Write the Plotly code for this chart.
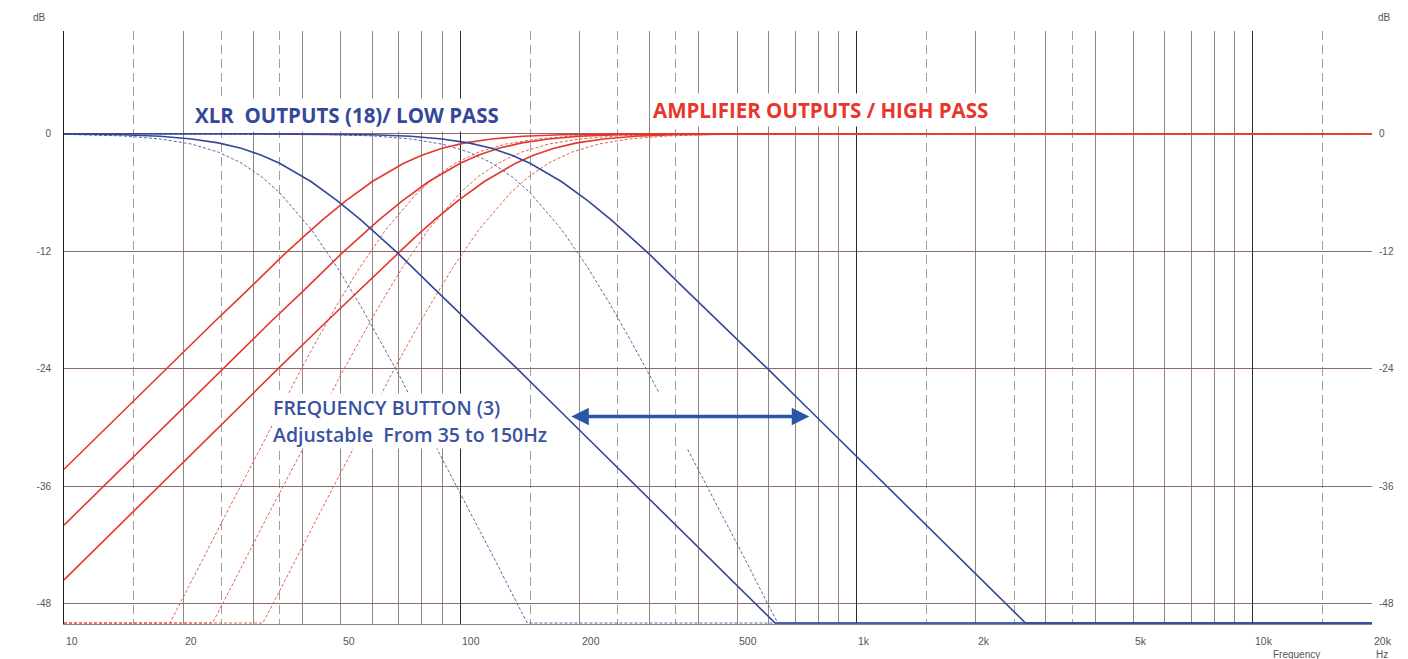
import math
import plotly.graph_objects as go

# ---------------- data ----------------
# Low pass (blue), solid = 12 dB/oct, dashed = 24 dB/oct
lp1_freq = [10, 14, 17.5, 21, 24.5, 28, 31.5, 35, 42, 49, 56, 63, 70, 87.5, 105, 140, 175, 210, 280, 350, 525, 623, 20000]
lp1_db = [-0.03, -0.11, -0.26, -0.53, -0.93, -1.49, -2.19, -3.01, -4.88, -6.85, -8.78, -10.61, -12.3, -16.13, -19.19,
          -24.11, -27.97, -31.13, -36.12, -40.0, -47.04, -50, -50]

lp2_freq = [10, 30, 60, 75, 90, 105, 120, 135, 150, 180, 210, 240, 270, 300, 375, 450, 600, 750, 900, 1200, 1500, 2250, 2670, 20000]
lp2_db = [0, -0.01, -0.11, -0.26, -0.53, -0.93, -1.49, -2.19, -3.01, -4.88, -6.85, -8.78, -10.61, -12.3, -16.13,
          -19.19, -24.11, -27.97, -31.13, -36.12, -40.0, -47.04, -50, -50]

lp1d_freq = [10, 14, 17.5, 21, 24.5, 28, 31.5, 35, 42, 49, 56, 63, 70, 87.5, 105, 122.5, 140, 147.7, 20000]
lp1d_db = [-0.06, -0.22, -0.53, -1.06, -1.87, -2.98, -4.38, -6.02, -9.75, -13.7, -17.56, -21.22, -24.61, -32.26,
           -38.38, -43.58, -48.22, -50, -50]

lp2d_freq = [10, 45, 60, 75, 90, 105, 120, 135, 150, 180, 210, 240, 270, 300, 318, 340, 375, 450, 525, 600, 633, 20000]
lp2d_db = [0, -0.07, -0.22, -0.53, -1.06, -1.87, -2.98, -4.38, -6.02, -9.75, -13.7, -17.56, -21.22, -24.61, -26.5,
           None, -32.26, -38.38, -43.58, -48.22, -50, -50]

# High pass (red), solid = 12 dB/oct, dashed = 24 dB/oct
hp1_freq = [10, 12, 14.4, 18, 24, 28.8, 36, 40, 45, 51.4, 60, 72, 80, 90, 102.9, 120, 144, 180, 240, 360, 20000]
hp1_db = [-34.29, -31.13, -27.97, -24.11, -19.19, -16.13, -12.3, -10.61, -8.78, -6.85, -4.88, -3.01, -2.19, -1.49,
          -0.93, -0.53, -0.26, -0.11, -0.035, -0.007, 0]

hp2_freq = [10, 12.5, 16.7, 20, 25, 33.3, 40, 50, 55.6, 62.5, 71.4, 83.3, 100, 111, 125, 143, 167, 200, 250, 333, 500, 20000]
hp2_db = [-40.0, -36.12, -31.13, -27.97, -24.11, -19.19, -16.13, -12.3, -10.61, -8.78, -6.85, -4.88, -3.01, -2.19,
          -1.49, -0.93, -0.53, -0.26, -0.11, -0.035, -0.007, 0]

hp3_freq = [10, 13.8, 17.25, 23, 27.6, 34.5, 46, 55.2, 69, 76.7, 86.25, 98.6, 115, 138, 153, 172.5, 197, 230, 276, 345, 460, 690, 20000]
hp3_db = [-45.6, -40.0, -36.12, -31.13, -27.97, -24.11, -19.19, -16.13, -12.3, -10.61, -8.78, -6.85, -4.88, -3.01,
          -2.19, -1.49, -0.93, -0.53, -0.26, -0.11, -0.035, -0.007, 0]

hp1d_freq = [10, 18.5, 19.5, 22.3, 26, 31.2, 39, 43.3, 48.75, 55.7, 65, 78, 86.7, 97.5, 111.4, 130, 156, 195, 260, 390, 20000]
hp1d_db = [-50, -50, -48.22, -43.58, -38.38, -32.26, -24.61, -21.22, -17.56, -13.7, -9.75, -6.02, -4.38, -2.98,
           -1.87, -1.06, -0.53, -0.22, -0.07, -0.014, 0]

hp2d_freq = [10, 23.7, 25, 28.6, 33.3, 40, 50, 55.6, 62.5, 71.4, 83.3, 100, 111, 125, 143, 167, 200, 250, 333, 500, 20000]
hp2d_db = [-50, -50, -48.22, -43.58, -38.38, -32.26, -24.61, -21.22, -17.56, -13.7, -9.75, -6.02, -4.38, -2.98,
           -1.87, -1.06, -0.53, -0.22, -0.07, -0.014, 0]

hp3d_freq = [10, 31.75, 33.5, 38.3, 44.7, 53.6, 67, 74.4, 83.75, 95.7, 111.7, 134, 148.9, 167.5, 191.4, 223, 268, 335, 447, 670, 20000]
hp3d_db = [-50, -50, -48.22, -43.58, -38.38, -32.26, -24.61, -21.22, -17.56, -13.7, -9.75, -6.02, -4.38, -2.98,
           -1.87, -1.06, -0.53, -0.22, -0.07, -0.014, 0]

# axes / labels
x_label_vals = [10, 20, 50, 100, 200, 500, 1000, 2000, 5000, 10000, 20000]
x_label_text = ["10", "20", "50", "100", "200", "500", "1k", "2k", "5k", "10k", "20k"]
grid_solid = [20, 30, 40, 50, 60, 70, 80, 90, 200, 300, 400, 500, 600, 700, 800, 900,
              2000, 3000, 4000, 5000, 6000, 7000, 8000, 9000, 20000]
grid_dashed = [15, 25, 35, 150, 250, 350, 1500, 2500, 3500, 15000]
grid_decades = [100, 1000, 10000]
y_tick_vals = [0, -12, -24, -36, -48]
y_tick_text = ["0", "-12", "-24", "-36", "-48"]
arrow_freqs = [189, 760]
arrow_db = -28.9

# ---------------- figure ----------------
RED = "#e3372d"
BLUE = "#34479a"
RED_D = "#e4604f"
BLUE_D = "#5a6aa3"

fig = go.Figure()


def add(freq, db, color, width, dash=None):
    fig.add_trace(go.Scatter(x=freq, y=db, mode="lines", connectgaps=False,
                             line=dict(color=color, width=width, dash=dash),
                             showlegend=False, hoverinfo="skip"))


for f, d in [(hp1d_freq, hp1d_db), (hp2d_freq, hp2d_db), (hp3d_freq, hp3d_db)]:
    add(f, d, RED_D, 1, "3px,2px")
for f, d in [(lp1d_freq, lp1d_db), (lp2d_freq, lp2d_db)]:
    add(f, d, BLUE_D, 1, "3px,2px")
for f, d in [(hp1_freq, hp1_db), (hp2_freq, hp2_db), (hp3_freq, hp3_db)]:
    add(f, d, RED, 1.6)
for f, d in [(lp1_freq, lp1_db), (lp2_freq, lp2_db)]:
    add(f, d, BLUE, 1.6)

# helper traces so the overlay axes get drawn
fig.add_trace(go.Scatter(x=[10, 20000], y=[None, None], xaxis="x2", yaxis="y",
                         showlegend=False, hoverinfo="skip"))
fig.add_trace(go.Scatter(x=[10, 20000], y=[None, None], xaxis="x", yaxis="y2",
                         showlegend=False, hoverinfo="skip"))

XR = [1, math.log10(20000)]
YR = [-50.1, 10.5]
tickfont = dict(family="Liberation Sans, Arial, sans-serif", size=10, color="#555555")

fig.update_layout(
    width=1408, height=659,
    margin=dict(l=64, r=36, t=31, b=35),
    paper_bgcolor="white", plot_bgcolor="white",
    showlegend=False,
    xaxis=dict(type="log", range=XR, tickmode="array", tickvals=grid_solid,
               showticklabels=False, ticks="", showgrid=True, gridcolor="#8f8686",
               gridwidth=1, zeroline=False, showline=True, linecolor="#8f8686",
               minor=dict(tickmode="array", tickvals=grid_dashed, showgrid=True,
                          gridcolor="#a59d9d", griddash="9px,5px", gridwidth=1, ticks="")),
    xaxis2=dict(type="log", range=XR, overlaying="x", anchor="y", tickmode="array",
                tickvals=grid_decades, showticklabels=False, ticks="", showgrid=True,
                gridcolor="#2b2b2b", gridwidth=1, zeroline=False),
    yaxis=dict(range=YR, tickmode="array", tickvals=y_tick_vals, ticktext=y_tick_text,
               showgrid=True, gridcolor="#8a6a6a", gridwidth=1, zeroline=False,
               showline=True, linecolor="#1a1a1a", linewidth=1, ticks="",
               tickfont=tickfont, ticklabelstandoff=10),
    yaxis2=dict(range=YR, overlaying="y", side="right", anchor="x", tickmode="array",
                tickvals=y_tick_vals, ticktext=y_tick_text, showgrid=False,
                zeroline=False, showline=False, ticks="", tickfont=tickfont,
                ticklabelstandoff=6),
)

ann = []
for v, t in zip(x_label_vals, x_label_text):
    ann.append(dict(x=math.log10(v), xref="x", y=-0.0287, yref="paper", text=t,
                    showarrow=False, xanchor="left", yanchor="middle",
                    font=dict(family="Liberation Sans, Arial, sans-serif", size=10.5, color="#555555")))
small = dict(family="Liberation Sans, Arial, sans-serif", size=10, color="#555555")
freq_font = dict(family="Open Sans", size=19.5, color="#3a52a0", weight=600)
ann += [
    dict(x=-0.0184, y=1.0236, xref="paper", yref="paper", text="dB", showarrow=False,
         xanchor="center", yanchor="middle", font=small),
    dict(x=1.0099, y=1.0236, xref="paper", yref="paper", text="dB", showarrow=False,
         xanchor="center", yanchor="middle", font=small),
    dict(x=0.9419, y=-0.0506, xref="paper", yref="paper", text="Frequency", showarrow=False,
         xanchor="center", yanchor="middle", font=small),
    dict(x=1.0076, y=-0.0506, xref="paper", yref="paper", text="Hz", showarrow=False,
         xanchor="center", yanchor="middle", font=small),
    dict(x=0.0979, y=0.8583, xref="paper", yref="paper", text="XLR\u00a0 OUTPUTS (18)/ LOW PASS",
         showarrow=False, xanchor="left", yanchor="middle", bgcolor="white", borderpad=2,
         font=dict(family="Open Sans", size=20.5, color="#34479a", weight="bold")),
    dict(x=0.448, y=0.8668, xref="paper", yref="paper", text="AMPLIFIER OUTPUTS / HIGH PASS",
         showarrow=False, xanchor="left", yanchor="middle", bgcolor="white", borderpad=2,
         font=dict(family="Open Sans", size=20.5, color="#e8362c", weight="bold")),
    dict(x=0.159, y=0.3651, xref="paper", yref="paper", text="FREQUENCY BUTTON (3)",
         showarrow=False, xanchor="left", yanchor="middle", align="left",
         bgcolor="white", borderpad=0, font=freq_font),
    dict(x=0.159, y=0.3196, xref="paper", yref="paper", text="Adjustable\u00a0 From 35 to 150Hz",
         showarrow=False, xanchor="left", yanchor="middle", align="left",
         bgcolor="white", borderpad=0, font=freq_font),
    dict(x=math.log10(arrow_freqs[1]), y=arrow_db, xref="x", yref="y",
         ax=math.log10(arrow_freqs[0]), ay=arrow_db, axref="x", ayref="y",
         text="", showarrow=True, arrowside="end+start", arrowhead=2, startarrowhead=2,
         arrowsize=1, startarrowsize=1, arrowwidth=3.5, arrowcolor="#2a56a8"),
]
fig.update_layout(annotations=ann)

fig.write_html("out.html")
